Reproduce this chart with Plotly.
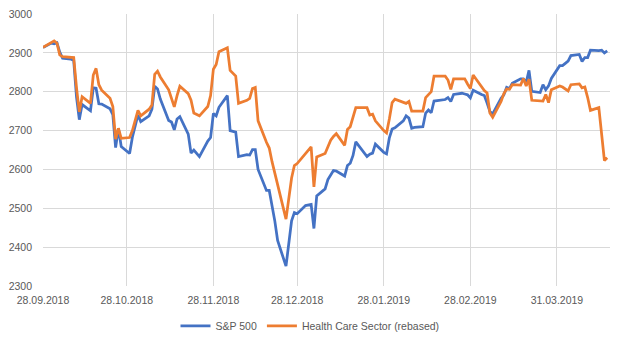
import plotly.graph_objects as go

dates = [
    "2018-09-28",
    "2018-10-01", "2018-10-02", "2018-10-03", "2018-10-04", "2018-10-05", "2018-10-08", "2018-10-09",
    "2018-10-10", "2018-10-11", "2018-10-12", "2018-10-15", "2018-10-16", "2018-10-17", "2018-10-18",
    "2018-10-19", "2018-10-22", "2018-10-23", "2018-10-24", "2018-10-25", "2018-10-26", "2018-10-29",
    "2018-10-30", "2018-10-31",
    "2018-11-01", "2018-11-02", "2018-11-05", "2018-11-06", "2018-11-07", "2018-11-08", "2018-11-09",
    "2018-11-12", "2018-11-13", "2018-11-14", "2018-11-15", "2018-11-16", "2018-11-19", "2018-11-20",
    "2018-11-21", "2018-11-23", "2018-11-26", "2018-11-27", "2018-11-28", "2018-11-29", "2018-11-30",
    "2018-12-03", "2018-12-04", "2018-12-06", "2018-12-07", "2018-12-10", "2018-12-11", "2018-12-12",
    "2018-12-13", "2018-12-14", "2018-12-17", "2018-12-18", "2018-12-19", "2018-12-20", "2018-12-21",
    "2018-12-24", "2018-12-26", "2018-12-27", "2018-12-28", "2018-12-31",
    "2019-01-02", "2019-01-03", "2019-01-04", "2019-01-07", "2019-01-08", "2019-01-09", "2019-01-10",
    "2019-01-11", "2019-01-14", "2019-01-15", "2019-01-16", "2019-01-17", "2019-01-18", "2019-01-22",
    "2019-01-23", "2019-01-24", "2019-01-25", "2019-01-28", "2019-01-29", "2019-01-30", "2019-01-31",
    "2019-02-01", "2019-02-04", "2019-02-05", "2019-02-06", "2019-02-07", "2019-02-08", "2019-02-11",
    "2019-02-12", "2019-02-13", "2019-02-14", "2019-02-15", "2019-02-19", "2019-02-20", "2019-02-21",
    "2019-02-22", "2019-02-25", "2019-02-26", "2019-02-27", "2019-02-28",
    "2019-03-01", "2019-03-04", "2019-03-05", "2019-03-06", "2019-03-07", "2019-03-08", "2019-03-11",
    "2019-03-12", "2019-03-13", "2019-03-14", "2019-03-15", "2019-03-18", "2019-03-19", "2019-03-20",
    "2019-03-21", "2019-03-22", "2019-03-25", "2019-03-26", "2019-03-27", "2019-03-28", "2019-03-29",
    "2019-04-01", "2019-04-02", "2019-04-03", "2019-04-04", "2019-04-05", "2019-04-08", "2019-04-09",
    "2019-04-10", "2019-04-11", "2019-04-12", "2019-04-15", "2019-04-16", "2019-04-17", "2019-04-18",
]

sp500 = [
    2914,
    2925, 2923, 2926, 2902, 2886, 2884, 2880, 2786, 2728, 2767, 2751, 2810, 2809, 2769, 2768, 2756,
    2741, 2656, 2706, 2659, 2641, 2683, 2712,
    2740, 2723, 2738, 2755, 2814, 2807, 2781, 2726, 2722, 2702, 2730, 2736, 2691, 2642, 2650, 2633,
    2673, 2682, 2744, 2738, 2760,
    2790, 2700, 2696, 2633, 2638, 2637, 2651, 2651, 2600, 2546, 2546, 2507, 2467, 2417, 2351, 2468,
    2489, 2486, 2507,
    2510, 2448, 2532, 2550, 2574, 2585, 2597, 2596, 2583, 2610, 2616, 2636, 2671, 2633, 2639, 2642,
    2665, 2644, 2640, 2681, 2704,
    2707, 2725, 2738, 2732, 2706, 2708, 2710, 2745, 2753, 2746, 2776, 2780, 2785, 2775, 2793, 2796,
    2794, 2792, 2784,
    2804, 2793, 2790, 2771, 2749, 2743, 2783, 2792, 2811, 2808, 2822, 2833, 2833, 2824, 2855, 2801,
    2798, 2818, 2805, 2815, 2834,
    2867, 2867, 2873, 2879, 2893, 2896, 2878, 2888, 2888, 2907, 2906, 2907, 2900, 2905,
]

health_care = [
    2914,
    2927, 2931, 2925, 2895, 2890, 2889, 2888, 2810, 2748, 2787, 2770, 2843, 2860, 2818, 2804, 2783,
    2762, 2678, 2706, 2680, 2682, 2700, 2725,
    2752, 2738, 2755, 2766, 2845, 2853, 2838, 2805, 2785, 2761, 2790, 2814, 2795, 2778, 2745, 2738,
    2762, 2790, 2858, 2870, 2903,
    2913, 2855, 2840, 2770, 2778, 2783, 2808, 2811, 2725, 2670, 2655, 2620, 2590, 2555, 2472, 2578,
    2610, 2615, 2640,
    2658, 2555, 2632, 2641, 2660, 2675, 2685, 2692, 2662, 2703, 2710, 2735, 2759, 2759, 2740, 2742,
    2725, 2700, 2694, 2730, 2772,
    2781, 2772, 2770, 2775, 2750, 2750, 2750, 2785, 2792, 2800, 2840, 2840, 2830, 2806, 2833, 2833,
    2833, 2820, 2808,
    2843, 2812, 2803, 2797, 2745, 2734, 2775, 2795, 2807, 2806, 2818, 2817, 2834, 2815, 2832, 2778,
    2776, 2776, 2793, 2772, 2805,
    2815, 2812, 2806, 2802, 2818, 2820, 2810, 2812, 2785, 2752, 2759, 2695, 2623, 2630,
]

tick_dates = ["2018-09-28", "2018-10-28", "2018-11-28", "2018-12-28", "2019-01-28", "2019-02-28", "2019-03-31"]
tick_labels = ["28.09.2018", "28.10.2018", "28.11.2018", "28.12.2018", "28.01.2019", "28.02.2019", "31.03.2019"]

series_names = ["S&P 500", "Health Care Sector (rebased)"]
colors = ["#4472C4", "#ED7D31"]

fig = go.Figure()
fig.add_trace(go.Scatter(x=dates, y=sp500, mode="lines", name=series_names[0],
                         line=dict(color=colors[0], width=2.75)))
fig.add_trace(go.Scatter(x=dates, y=health_care, mode="lines", name=series_names[1],
                         line=dict(color=colors[1], width=2.75)))

font_color = "#595959"
fig.update_layout(
    width=625, height=346,
    margin=dict(l=43, r=15, t=14, b=60, autoexpand=False),
    paper_bgcolor="white", plot_bgcolor="white",
    font=dict(family="Liberation Sans, Arial, sans-serif", size=10.5, color=font_color),
    showlegend=True,
    legend=dict(orientation="h", xref="container", yref="container",
                x=0.496, xanchor="center", y=0.1, yanchor="top",
                font=dict(size=10.5, color=font_color), itemwidth=30),
    xaxis=dict(type="date", range=["2018-09-28", "2019-04-19"],
               tickvals=tick_dates, ticktext=tick_labels, automargin=False,
               showgrid=True, gridcolor="#D9D9D9", gridwidth=1,
               zeroline=False, showline=False, ticks="", ticklabelstandoff=6),
    yaxis=dict(range=[2300, 3000], dtick=100, tick0=2300, automargin=False,
               showgrid=True, gridcolor="#D9D9D9", gridwidth=1,
               zeroline=False, showline=False, ticks="", ticklabelstandoff=10),
)

fig.write_html("out.html")
